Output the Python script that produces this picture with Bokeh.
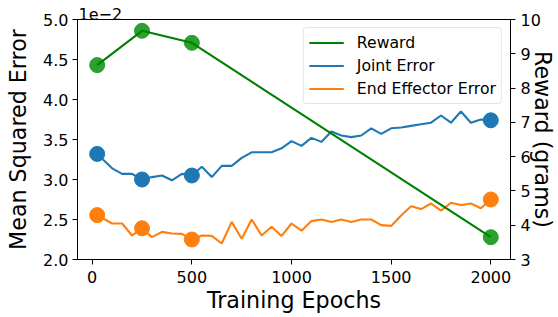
from bokeh.plotting import figure
from bokeh.models import (Range1d, LinearAxis, FixedTicker, PrintfTickFormatter,
                          Legend, LegendItem)
from bokeh.embed import file_html
from bokeh.resources import INLINE

# ---------------- data ----------------
epochs = [25, 100, 150, 200, 250, 300, 350, 400, 450, 500,
          550, 600, 650, 700, 750, 800, 850, 900, 950, 1000,
          1050, 1100, 1150, 1200, 1250, 1300, 1350, 1400, 1450, 1500,
          1550, 1600, 1650, 1700, 1750, 1800, 1850, 1900, 1950, 2000]

joint_error = [0.0332, 0.0314, 0.0307, 0.0307, 0.0300, 0.0303, 0.0305, 0.0299, 0.0307, 0.0305,
               0.0316, 0.0303, 0.0317, 0.0317, 0.0327, 0.0334, 0.0334, 0.0334, 0.0339, 0.0348,
               0.0342, 0.0352, 0.0347, 0.0360, 0.0355, 0.0353, 0.0355, 0.0364, 0.0357, 0.0364,
               0.0365, 0.0367, 0.0369, 0.0371, 0.0380, 0.0371, 0.0385, 0.0371, 0.0375, 0.0374]

ee_error = [0.02555, 0.0245, 0.0245, 0.0230, 0.0239, 0.0228, 0.02345, 0.02325, 0.0232, 0.0225,
            0.0230, 0.02295, 0.0220, 0.0247, 0.0226, 0.0250, 0.0230, 0.0241, 0.02295, 0.0245,
            0.0236, 0.0248, 0.0250, 0.0247, 0.0250, 0.0247, 0.0250, 0.0250, 0.0243, 0.0242,
            0.0255, 0.02665, 0.0263, 0.0270, 0.0261, 0.0271, 0.0268, 0.0270, 0.0264, 0.0275]

marker_epochs = [25, 250, 500, 2000]
reward_epochs = [25, 250, 500, 2000]
reward = [8.67, 9.67, 9.32, 3.65]

error_scale = 1e-2
error_ticks = [2.0, 2.5, 3.0, 3.5, 4.0, 4.5, 5.0]
reward_ticks = [3, 4, 5, 6, 7, 8, 9, 10]
epoch_ticks = [0, 500, 1000, 1500, 2000]

# ---------------- derived ----------------
joint_s = [v / error_scale for v in joint_error]
ee_s = [v / error_scale for v in ee_error]
idx = [epochs.index(e) for e in marker_epochs]
joint_m = [joint_s[i] for i in idx]
ee_m = [ee_s[i] for i in idx]

FONT = "DejaVu Sans"
BLUE = "#1f77b4"
ORANGE = "#ff7f0e"
GREEN_LINE = "#008000"
GREEN_MARK = "#2ca02c"
X0, X1 = -73.75, 2098.75

p = figure(width=558, height=317, output_backend="svg", toolbar_location=None,
           x_range=Range1d(X0, X1), y_range=Range1d(2.0, 5.0),
           min_border_left=77, min_border_right=45, min_border_top=19, min_border_bottom=58)
p.xgrid.visible = False
p.ygrid.visible = False
p.outline_line_color = "black"
p.outline_line_alpha = 1.0
p.outline_line_width = 1
p.background_fill_color = "white"
p.border_fill_color = "white"
p.extra_y_ranges = {"reward": Range1d(3, 10)}

# offset text of the left axis, shown as a left-aligned title
p.title.text = "1e\u22122"
p.title.align = "left"
p.title.text_font = FONT
p.title.text_font_size = "16px"
p.title.text_font_style = "normal"
p.title.text_color = "black"
p.title.standoff = 0
p.title.offset = 1

right_axis = LinearAxis(y_range_name="reward", axis_label="Reward (grams)",
                        ticker=FixedTicker(ticks=reward_ticks))
p.add_layout(right_axis, "right")

p.xaxis.ticker = FixedTicker(ticks=epoch_ticks)
p.yaxis[0].ticker = FixedTicker(ticks=error_ticks)
p.yaxis[0].formatter = PrintfTickFormatter(format="%.1f")
p.xaxis.axis_label = "Training Epochs"
p.yaxis[0].axis_label = "Mean Squared Error"

for ax in [p.xaxis[0], p.yaxis[0], right_axis]:
    ax.axis_line_color = "black"
    ax.major_tick_line_color = "black"
    ax.major_tick_out = 5
    ax.major_tick_in = 0
    ax.minor_tick_out = 0
    ax.minor_tick_in = 0
    ax.major_label_text_font = FONT
    ax.major_label_text_font_size = "16px"
    ax.major_label_text_color = "black"
    ax.major_label_standoff = 4
    ax.axis_label_text_font = FONT
    ax.axis_label_text_font_size = "22.2px"
    ax.axis_label_text_font_style = "normal"
    ax.axis_label_text_color = "black"

p.yaxis[0].axis_label_standoff = 9
p.xaxis[0].major_label_standoff = 6
p.xaxis[0].axis_label_standoff = 1
right_axis.major_label_standoff = 5
right_axis.axis_label_text_line_height = 0.8
right_axis.axis_label_standoff = -14

# error lines
r_joint = p.line(epochs, joint_s, line_color=BLUE, line_width=2.1)
p.scatter(marker_epochs, joint_m, size=15, fill_color=BLUE, line_color=BLUE)
r_ee = p.line(epochs, ee_s, line_color=ORANGE, line_width=2.1)
p.scatter(marker_epochs, ee_m, size=15, fill_color=ORANGE, line_color=ORANGE)

# reward on right axis
p.scatter(reward_epochs, reward, size=15, fill_color=GREEN_MARK, line_color=GREEN_MARK,
          y_range_name="reward")
r_rew = p.line(reward_epochs, reward, line_color=GREEN_LINE, line_width=2.1,
               y_range_name="reward")

legend = Legend(items=[LegendItem(label="Reward", renderers=[r_rew]),
                       LegendItem(label="Joint Error", renderers=[r_joint]),
                       LegendItem(label="End Effector Error", renderers=[r_ee])],
                location="top_right", margin=8)
legend.label_text_font = FONT
legend.label_text_font_size = "15.7px"
legend.label_text_color = "black"
legend.glyph_width = 35
legend.glyph_height = 19
legend.label_height = 19
legend.label_standoff = 13
legend.padding = 5
legend.spacing = 4
legend.border_line_color = "#cccccc"
legend.border_line_width = 1
legend.background_fill_alpha = 0.8
if "border_radius" in legend.properties():
    legend.border_radius = 4
p.add_layout(legend, "center")

open("out.html", "w").write(file_html(p, INLINE))
